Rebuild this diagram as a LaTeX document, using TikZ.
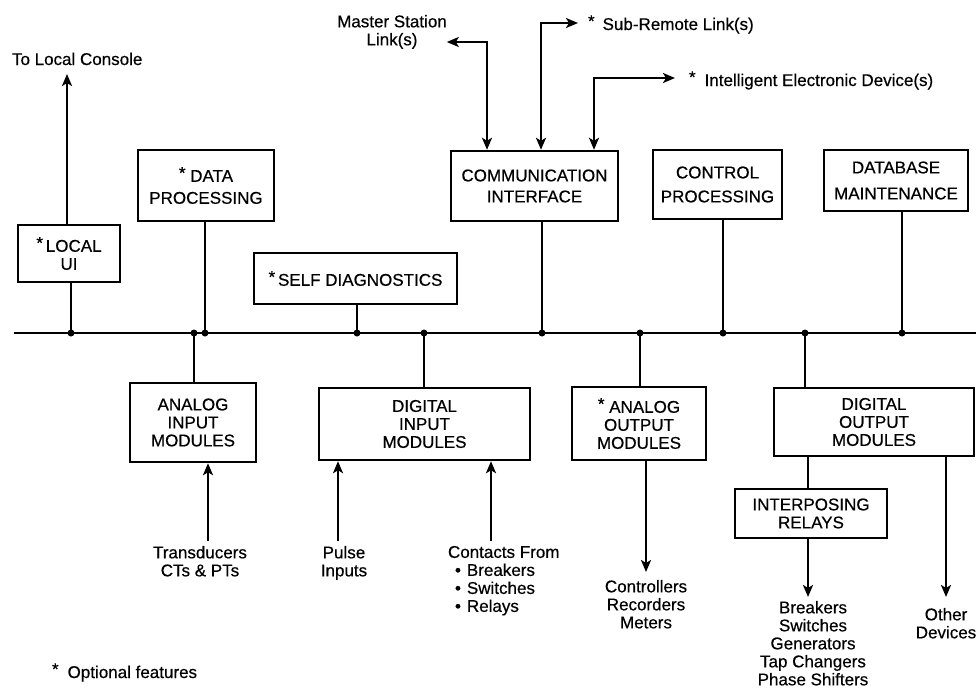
\documentclass[tikz,border=0pt]{standalone}
\usepackage{fontspec}
\setmainfont{Liberation Sans}[BoldFont=Liberation Sans,BoldFeatures={FakeBold=0.5}]
\usetikzlibrary{arrows.meta}

\def\busy{333}
\newcommand{\optmark}{\raisebox{3pt}{*}}

\begin{document}
\begin{tikzpicture}[x=1pt,y=-1pt,line width=2.4pt,>={Stealth[length=12pt,width=10pt,inset=3pt]},
    font=\fontsize{17}{18}\selectfont\bfseries]
    \tikzstyle{module}=[draw,align=center,inner sep=0pt]
    \tikzstyle{sigtext}=[align=center,inner sep=0pt,outer sep=0pt]
    \tikzstyle{tap}=[circle,fill,inner sep=0pt,minimum size=7pt]
    \tikzstyle{bus}=[line width=2.8pt]

    \useasboundingbox (0,0) rectangle (976,688);

    % Draw the modules above the bus
    \node[module, minimum width=102, minimum height=57] (LUI) at (69,253.5) {\optmark\,LOCAL\\UI};
    \node[module, minimum width=136, minimum height=71] (DP) at (206,185.5) {\optmark\ DATA\\[4pt]PROCESSING};
    \node[module, minimum width=203, minimum height=51] (SD) at (355.5,278.5) {\optmark\,SELF DIAGNOSTICS};
    \node[module, minimum width=167, minimum height=70] (CI) at (534.5,186) {COMMUNICATION\\[3pt]INTERFACE};
    \node[module, minimum width=129, minimum height=69] (CP) at (717.5,184.5) {CONTROL\\[6pt]PROCESSING};
    \node[module, minimum width=144, minimum height=61] (DB) at (896,180.5) {DATABASE\\[8pt]MAINTENANCE};

    % Draw the modules below the bus
    \node[module, minimum width=126, minimum height=79] (AI) at (193,422.5) {ANALOG\\INPUT\\MODULES};
    \node[module, minimum width=211, minimum height=72] (DI) at (424.5,424) {DIGITAL\\INPUT\\MODULES};
    \node[module, minimum width=134, minimum height=73] (AO) at (639,423.5) {\optmark\ ANALOG\\OUTPUT\\MODULES};
    \node[module, minimum width=200, minimum height=68] (DO) at (874,422) {DIGITAL\\OUTPUT\\MODULES};
    \node[module, minimum width=152, minimum height=49] (IR) at (811,513.5) {INTERPOSING\\RELAYS};

    % The bus
    \coordinate (bus-w) at (14,\busy);
    \coordinate (bus-e) at (976,\busy);
    \draw[bus] (bus-w) -- (bus-e);

    % Connect the modules with the bus
    \foreach \x/\name in {71/LUI,205/DP,357/SD,542/CI,723/CP,902/DB}
    {
        \coordinate (T-\name) at (\x,\busy);
        \draw (T-\name) -- (T-\name |- \name.south);
    }
    \foreach \x/\name in {194/AI,424/DI,640/AO,805/DO}
    {
        \coordinate (T-\name) at (\x,\busy);
        \draw (T-\name) -- (T-\name |- \name.north);
    }
    \foreach \name in {LUI,DP,SD,CI,CP,DB,AI,DI,AO,DO}
        \node[tap] (D-\name) at (T-\name) {};

    % Signal texts
    \node[sigtext, anchor=base west] (console) at (12,65) {To Local Console};
    \node[sigtext, anchor=north] (master) at (392,15) {Master Station\\Link(s)};
    \node[sigtext, anchor=base west] (sub) at (588,30) {\optmark\hspace{8pt}Sub-Remote Link(s)};
    \node[sigtext, anchor=base west] (ied) at (689,86) {\optmark\hspace{9pt}Intelligent Electronic Device(s)};
    \node[sigtext, anchor=north] (trans) at (200,546) {Transducers\\CTs \& PTs};
    \node[sigtext, anchor=north] (pulse) at (344,546) {Pulse\\Inputs};
    \node[sigtext, anchor=north west, align=left] (contacts) at (448,546)
        {Contacts From\\\hspace{7pt}\textbullet\hspace{6pt}Breakers\\\hspace{7pt}\textbullet\hspace{6pt}Switches\\\hspace{7pt}\textbullet\hspace{6pt}Relays};
    \node[sigtext, anchor=north] (ctrl) at (646,580) {Controllers\\Recorders\\Meters};
    \node[sigtext, anchor=north] (brk) at (813,601) {Breakers\\Switches\\Generators\\Tap Changers\\Phase Shifters};
    \node[sigtext, anchor=north] (other) at (946,608) {Other\\Devices};
    \node[sigtext, anchor=base west] (note) at (52,678) {\optmark\hspace{9pt}Optional features};

    % Bends and free ends of the signal arrows
    \coordinate (con-tip) at (67,74);
    \coordinate (ms-bend) at (487,42);
    \coordinate (sr-bend) at (541,23);
    \coordinate (ied-bend) at (594,78);
    \coordinate (ai-in) at (208,541);
    \coordinate (pulse-in) at (338,541);
    \coordinate (cont-in) at (491,541);
    \coordinate (ao-out) at (646,572);
    \coordinate (ir-out) at (808,597);
    \coordinate (oth-out) at (946,597);

    % Links of the communication interface
    \draw[->] (LUI.north -| con-tip) -- (con-tip);
    \draw[<->] (master.east |- ms-bend) -- (ms-bend) -- (ms-bend |- CI.north);
    \draw[<->, shorten >=10pt] (sr-bend |- CI.north) -- (sr-bend) -- (sub.west |- sr-bend);
    \draw[<->, shorten >=14pt] (ied-bend |- CI.north) -- (ied-bend) -- (ied.west |- ied-bend);

    % Inputs and outputs of the modules
    \draw[->] (ai-in) -- (ai-in |- AI.south);
    \draw[->] (pulse-in) -- (pulse-in |- DI.south);
    \draw[->] (cont-in) -- (cont-in |- DI.south);
    \draw[->] (AO.south -| ao-out) -- (ao-out);
    \draw (DO.south -| ir-out) -- (IR.north -| ir-out);
    \draw[->] (IR.south -| ir-out) -- (ir-out);
    \draw[->] (DO.south -| oth-out) -- (oth-out);
\end{tikzpicture}
\end{document}
